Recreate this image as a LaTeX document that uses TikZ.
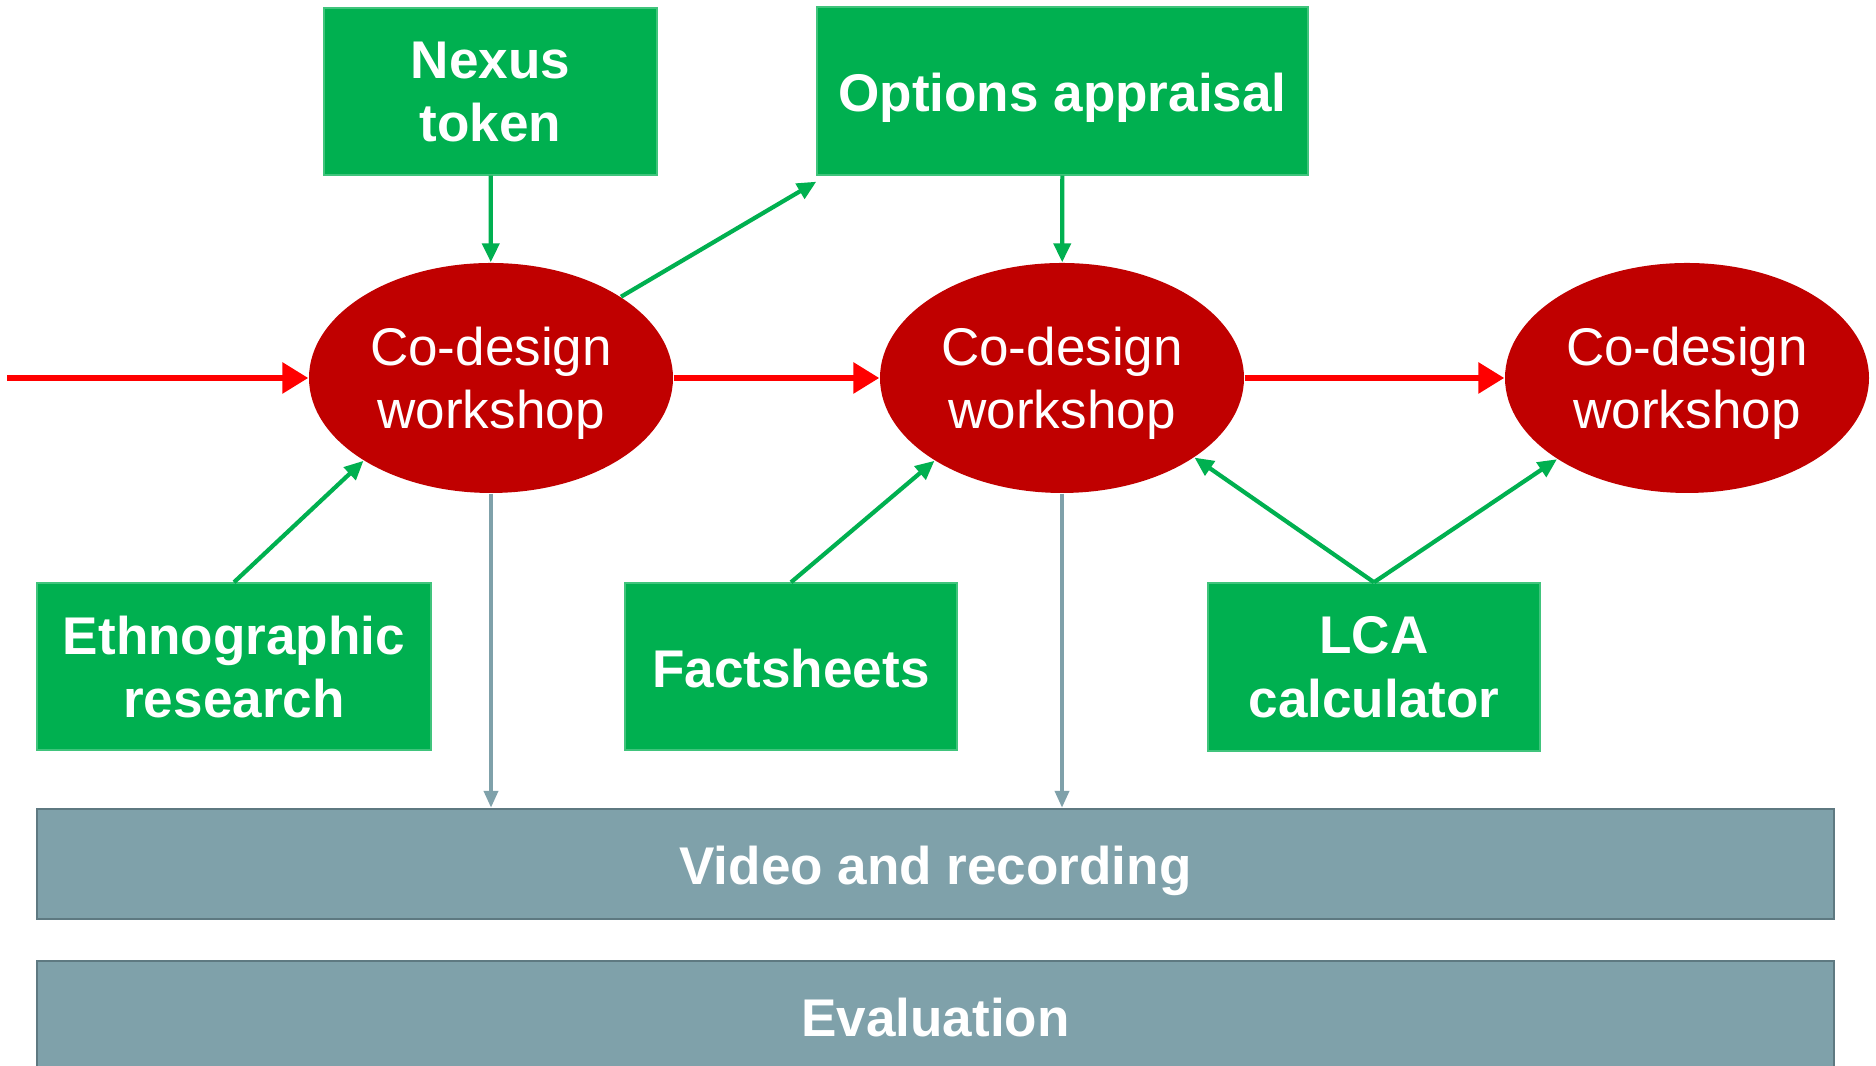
\documentclass[tikz,border=0pt]{standalone}
\usepackage{fontspec}
\setmainfont{Liberation Sans}
\usetikzlibrary{
    arrows.meta,
    shapes.geometric,
    calc,
    positioning
}
\definecolor{boxgreen}{RGB}{0,176,80}
\definecolor{wsred}{RGB}{192,0,0}
\definecolor{flowred}{RGB}{255,0,0}
\definecolor{bargrey}{RGB}{127,161,170}
\definecolor{bargreyline}{RGB}{94,121,129}

\begin{document}
\begin{tikzpicture}[
    tool/.style={fill=boxgreen, draw=boxgreen!75!white, line width=0.4pt, text=white,
        font=\fontsize{15.1}{18}\selectfont\bfseries, align=center,
        minimum height=1.67cm, inner sep=0pt, text depth=-2.6pt},
    oneline/.style={text height=15.5pt, text depth=3.8pt},
    workshop/.style={ellipse, fill=wsred, text=white,
        font=\fontsize{15.1}{18}\selectfont, align=center,
        minimum width=3.64cm, minimum height=2.30cm, inner sep=0pt, text depth=-4.8pt},
    bar/.style={fill=bargrey, draw=bargreyline, line width=0.7pt, text=white,
        font=\fontsize{15.1}{18}\selectfont\bfseries, oneline,
        minimum width=17.97cm, minimum height=1.10cm, inner sep=0pt},
    redarrow/.style={flowred, line width=1.7pt, -{Triangle[length=0.26cm, width=0.30cm]}},
    greenarrow/.style={boxgreen, line width=1.2pt, -{Triangle[length=0.19cm, width=0.17cm]}},
    greyarrow/.style={bargrey, line width=1.1pt, -{Triangle[length=0.17cm, width=0.14cm]}}
]
    \path[use as bounding box, fill=white] (0, 0) rectangle (18.76, 10.66);

    % workshops along the main flow
    \node[workshop] (e1) at (4.91, 6.88) {Co-design\\workshop};
    \node[workshop] (e2) at (10.62, 6.88) {Co-design\\workshop};
    \node[workshop] (e3) at (16.87, 6.88) {Co-design\\workshop};
    \coordinate (start) at (0.07, 6.88);

    % inputs
    \node[tool, minimum width=3.33cm] (nexus) at (4.905, 9.745) {Nexus\\token};
    \node[tool, oneline, minimum width=4.91cm, minimum height=1.68cm] (options) at (10.625, 9.75) {Options appraisal};
    \node[tool, minimum width=3.94cm] (ethno) at (2.34, 3.995) {Ethnographic\\research};
    \node[tool, oneline, minimum width=3.32cm] (facts) at (7.91, 3.995) {Factsheets};
    \node[tool, minimum width=3.32cm, minimum height=1.68cm] (lca) at (13.74, 3.99) {LCA\\calculator};
    \coordinate (optcorner) at ($(options.south west) + (0, -0.06)$);

    % bars at the bottom
    \node[bar] (video) at (9.355, 2.02) {Video and recording};
    \node[bar] (eval) at (9.355, 0.50) {Evaluation};

    \draw[redarrow] (start) -- (e1);
    \draw[redarrow] (e1) -- (e2);
    \draw[redarrow] (e2) -- (e3);

    \draw[greenarrow] (nexus) -- (e1);
    \draw[greenarrow] (e1.32) -- (optcorner);
    \draw[greenarrow] (options) -- (e2);
    \draw[greenarrow] (ethno.north) -- (e1.213);
    \draw[greenarrow] (facts.north) -- (e2.213);
    \draw[greenarrow] (lca.north) -- (e2.329);
    \draw[greenarrow] (lca.north) -- (e3.212);

    \draw[greyarrow] (e1.south) -- (e1.south |- video.north);
    \draw[greyarrow] (e2.south) -- (e2.south |- video.north);
\end{tikzpicture}
\end{document}
